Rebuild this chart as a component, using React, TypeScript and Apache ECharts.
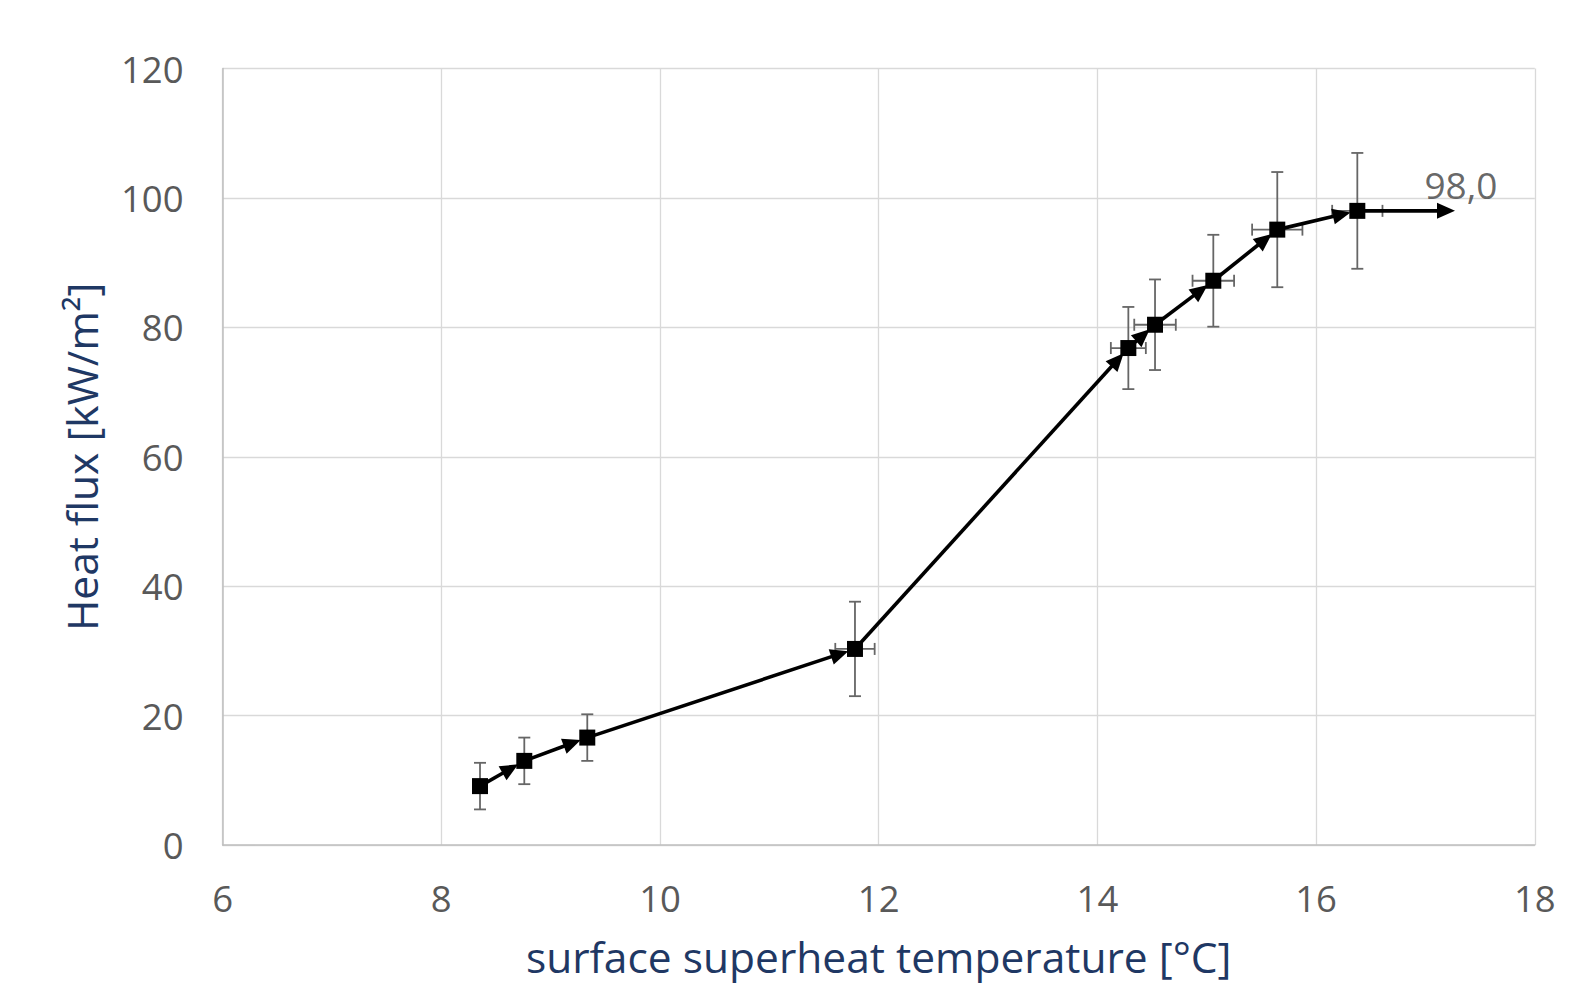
import React, { useEffect, useRef } from "react";
import * as echarts from "echarts";

// Data
const tempX = [8.354, 8.759, 9.335, 11.783, 14.283, 14.527, 15.06, 15.645, 16.377];
const heatFlux = [9.1, 13.0, 16.6, 30.3, 76.8, 80.4, 87.2, 95.1, 98.0];
const fluxErr = [3.6, 3.6, 3.6, 7.3, 6.35, 7.0, 7.1, 8.9, 8.95];
const tempErr = [0.05, 0.05, 0.05, 0.18, 0.16, 0.19, 0.19, 0.23, 0.23];
const arrowEndX = 17.27;
const endLabel = "98,0";
const xTicks = { min: 6, max: 18, interval: 2 };
const yTicks = { min: 0, max: 120, interval: 20 };
const xTitle = "surface superheat temperature [°C]";
const yTitle = "Heat flux [kW/m²]";

const FONT = "'Open Sans', 'Noto Sans', sans-serif";

export default function App() {
  const ref = useRef<HTMLDivElement>(null);
  useEffect(() => {
    if (!ref.current) return;
    const chart = echarts.init(ref.current, null, { renderer: "svg" });

    const points = tempX.map((x, i) => [x, heatFlux[i]]);
    const errData = tempX.map((x, i) => [x, heatFlux[i], tempErr[i], fluxErr[i]]);
    const segs: number[][] = [];
    for (let i = 0; i < tempX.length - 1; i++) {
      segs.push([tempX[i], heatFlux[i], tempX[i + 1], heatFlux[i + 1], 7]);
    }
    const last = tempX.length - 1;
    segs.push([tempX[last], heatFlux[last], arrowEndX, heatFlux[last], 0]);

    const option: any = {
      animation: false,
      grid: { left: 222.6, right: 50.2, top: 68.5, bottom: 136, containLabel: false },
      xAxis: {
        type: "value",
        min: xTicks.min,
        max: xTicks.max,
        interval: xTicks.interval,
        name: xTitle,
        nameLocation: "middle",
        nameGap: 90,
        nameTextStyle: { color: "#1f3864", fontSize: 42.5, fontFamily: FONT },
        axisLine: { show: true, lineStyle: { color: "#bfbfbf", width: 1.5 } },
        axisTick: { show: false },
        axisLabel: { color: "#595959", fontSize: 36.5, fontFamily: FONT, margin: 34 },
        splitLine: { show: true, lineStyle: { color: "#d9d9d9", width: 1.3 } },
      },
      yAxis: {
        type: "value",
        min: yTicks.min,
        max: yTicks.max,
        interval: yTicks.interval,
        name: yTitle,
        nameLocation: "middle",
        nameGap: 120,
        nameRotate: 90,
        nameTextStyle: { color: "#1f3864", fontSize: 42.5, fontFamily: FONT },
        axisLine: { show: true, lineStyle: { color: "#bfbfbf", width: 1.5 } },
        axisTick: { show: false },
        axisLabel: { color: "#595959", fontSize: 36.5, fontFamily: FONT, margin: 39 },
        splitLine: { show: true, lineStyle: { color: "#d9d9d9", width: 1.3 } },
      },
      series: [
        {
          type: "custom",
          name: "errors",
          data: errData,
          encode: { x: 0, y: 1 },
          z: 2,
          renderItem: (params: any, api: any) => {
            const x = api.value(0), y = api.value(1), xe = api.value(2), ye = api.value(3);
            const top = api.coord([x, y + ye]);
            const bot = api.coord([x, y - ye]);
            const lft = api.coord([x - xe, y]);
            const rgt = api.coord([x + xe, y]);
            const cap = 6;
            const st = { stroke: "#666666", lineWidth: 1.8 };
            return {
              type: "group",
              children: [
                { type: "line", shape: { x1: top[0], y1: top[1], x2: bot[0], y2: bot[1] }, style: st },
                { type: "line", shape: { x1: top[0] - cap, y1: top[1], x2: top[0] + cap, y2: top[1] }, style: st },
                { type: "line", shape: { x1: bot[0] - cap, y1: bot[1], x2: bot[0] + cap, y2: bot[1] }, style: st },
                { type: "line", shape: { x1: lft[0], y1: lft[1], x2: rgt[0], y2: rgt[1] }, style: st },
                { type: "line", shape: { x1: lft[0], y1: lft[1] - cap, x2: lft[0], y2: lft[1] + cap }, style: st },
                { type: "line", shape: { x1: rgt[0], y1: rgt[1] - cap, x2: rgt[0], y2: rgt[1] + cap }, style: st },
              ],
            };
          },
        },
        {
          type: "custom",
          name: "segments",
          data: segs,
          encode: { x: [0, 2], y: [1, 3] },
          z: 3,
          renderItem: (params: any, api: any) => {
            const p1 = api.coord([api.value(0), api.value(1)]);
            const p2 = api.coord([api.value(2), api.value(3)]);
            const shrink = api.value(4);
            const dx = p2[0] - p1[0], dy = p2[1] - p1[1];
            const len = Math.sqrt(dx * dx + dy * dy) || 1;
            const ux = dx / len, uy = dy / len;
            const nx = -uy, ny = ux;
            const tip = [p2[0] - ux * shrink, p2[1] - uy * shrink];
            const aLen = 18, aHalf = 8;
            const base = [tip[0] - ux * aLen, tip[1] - uy * aLen];
            return {
              type: "group",
              children: [
                {
                  type: "line",
                  shape: { x1: p1[0], y1: p1[1], x2: base[0] + ux * 2, y2: base[1] + uy * 2 },
                  style: { stroke: "#000", lineWidth: 3.6 },
                },
                {
                  type: "polygon",
                  shape: {
                    points: [
                      tip,
                      [base[0] + nx * aHalf, base[1] + ny * aHalf],
                      [base[0] - nx * aHalf, base[1] - ny * aHalf],
                    ],
                  },
                  style: { fill: "#000" },
                },
              ],
            };
          },
        },
        {
          type: "scatter",
          name: "points",
          data: points,
          symbol: "rect",
          symbolSize: 16,
          itemStyle: { color: "#000", opacity: 1 },
          z: 4,
        },
        {
          type: "scatter",
          name: "label",
          data: [[arrowEndX, heatFlux[last]]],
          symbolSize: 0,
          z: 5,
          label: {
            show: true,
            position: "top",
            distance: 8,
            offset: [6, 0],
            formatter: () => endLabel,
            color: "#404040",
            fontSize: 37,
            fontFamily: FONT,
          },
        },
      ],
    };
    chart.setOption(option);
    return () => chart.dispose();
  }, []);

  return (
    <div
      ref={ref}
      style={{ position: "fixed", left: 0, top: 0, width: 1585, height: 983, background: "#fff" }}
    />
  );
}
